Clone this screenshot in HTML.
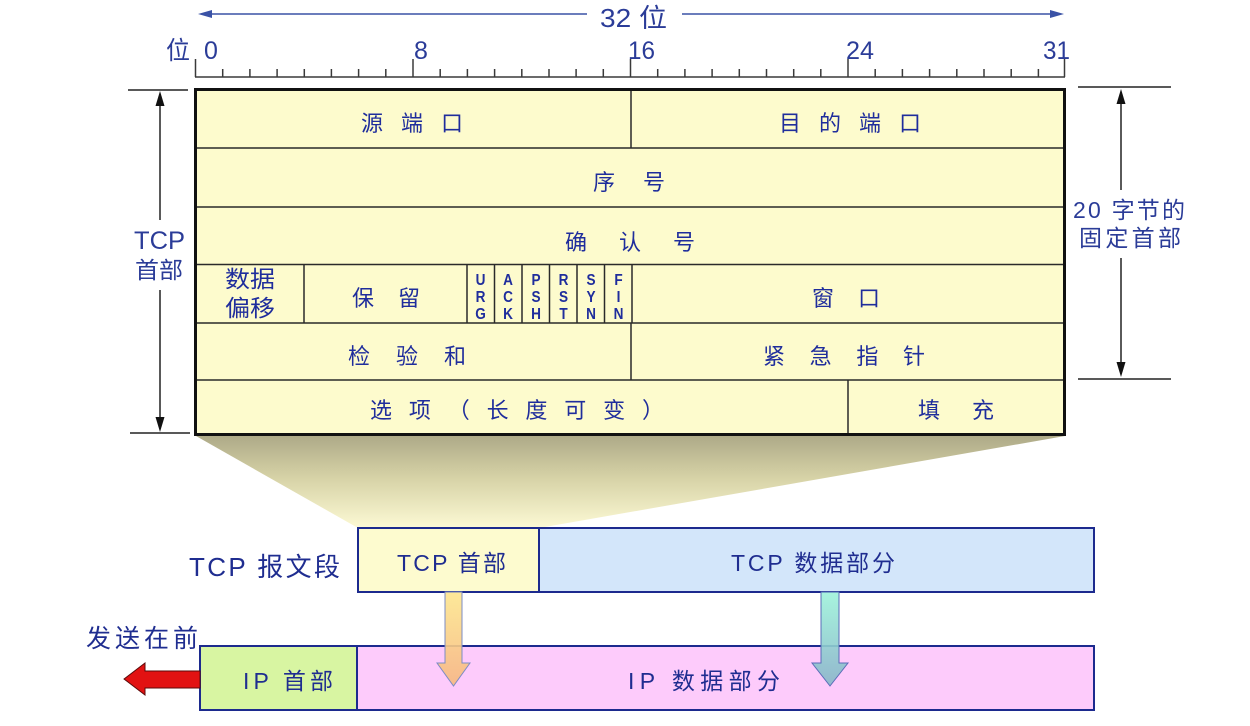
<!DOCTYPE html>
<html>
<head>
<meta charset="utf-8">
<style>
html,body{margin:0;padding:0;background:#fff;}
body{width:1250px;height:726px;overflow:hidden;}
svg{display:block;}
text{font-family:"Liberation Sans","Noto Sans CJK SC",sans-serif;}
.fl{font-weight:700;}
</style>
</head>
<body>
<svg width="1250" height="726" viewBox="0 0 1250 726" xmlns="http://www.w3.org/2000/svg">
<defs>
  <linearGradient id="trap" x1="0" y1="0" x2="0" y2="1">
    <stop offset="0" stop-color="#aeaa88"/>
    <stop offset="0.45" stop-color="#d6d2a6"/>
    <stop offset="1" stop-color="#fcf9d4"/>
  </linearGradient>
  <linearGradient id="ya" x1="0" y1="0" x2="0" y2="1">
    <stop offset="0" stop-color="#fde68e"/>
    <stop offset="1" stop-color="#f6b880"/>
  </linearGradient>
  <linearGradient id="ga" x1="0" y1="0" x2="0" y2="1">
    <stop offset="0" stop-color="#9ef2da"/>
    <stop offset="1" stop-color="#86b6c8"/>
  </linearGradient>
</defs>

<!-- top 32-bit arrow -->
<g stroke="#3a52a6" stroke-width="1.6" fill="#3a52a6">
  <line x1="208" y1="14" x2="587" y2="14"/>
  <polygon points="198,14 212,10 212,18" stroke="none"/>
  <line x1="682" y1="14" x2="1054" y2="14"/>
  <polygon points="1064,14 1050,10 1050,18" stroke="none"/>
</g>
<text x="600" y="27" font-size="26" fill="#2b3c98" textLength="67" lengthAdjust="spacingAndGlyphs">32 位</text>

<!-- ruler -->
<g fill="#2b3c98" font-size="25">
  <text x="166" y="59" textLength="24" lengthAdjust="spacingAndGlyphs">位</text>
  <text x="204" y="59">0</text>
  <text x="414" y="59">8</text>
  <text x="628" y="59" textLength="27" lengthAdjust="spacingAndGlyphs">16</text>
  <text x="846" y="59" textLength="28" lengthAdjust="spacingAndGlyphs">24</text>
  <text x="1043" y="59" textLength="27" lengthAdjust="spacingAndGlyphs">31</text>
</g>
<g stroke="#3a3a3a" stroke-width="1.5">
  <line x1="195" y1="77" x2="1065" y2="77"/>
  <line x1="195.5" y1="59" x2="195.5" y2="77"/>
  <line x1="222.7" y1="69" x2="222.7" y2="77"/>
  <line x1="249.9" y1="69" x2="249.9" y2="77"/>
  <line x1="277.1" y1="69" x2="277.1" y2="77"/>
  <line x1="304.3" y1="69" x2="304.3" y2="77"/>
  <line x1="331.4" y1="69" x2="331.4" y2="77"/>
  <line x1="358.6" y1="69" x2="358.6" y2="77"/>
  <line x1="385.8" y1="69" x2="385.8" y2="77"/>
  <line x1="413" y1="59" x2="413" y2="77"/>
  <line x1="440.2" y1="69" x2="440.2" y2="77"/>
  <line x1="467.4" y1="69" x2="467.4" y2="77"/>
  <line x1="494.6" y1="69" x2="494.6" y2="77"/>
  <line x1="521.8" y1="69" x2="521.8" y2="77"/>
  <line x1="549" y1="69" x2="549" y2="77"/>
  <line x1="576.1" y1="69" x2="576.1" y2="77"/>
  <line x1="603.3" y1="69" x2="603.3" y2="77"/>
  <line x1="630.5" y1="59" x2="630.5" y2="77"/>
  <line x1="657.7" y1="69" x2="657.7" y2="77"/>
  <line x1="684.9" y1="69" x2="684.9" y2="77"/>
  <line x1="712.1" y1="69" x2="712.1" y2="77"/>
  <line x1="739.3" y1="69" x2="739.3" y2="77"/>
  <line x1="766.5" y1="69" x2="766.5" y2="77"/>
  <line x1="793.7" y1="69" x2="793.7" y2="77"/>
  <line x1="820.8" y1="69" x2="820.8" y2="77"/>
  <line x1="848" y1="59" x2="848" y2="77"/>
  <line x1="875.2" y1="69" x2="875.2" y2="77"/>
  <line x1="902.4" y1="69" x2="902.4" y2="77"/>
  <line x1="929.6" y1="69" x2="929.6" y2="77"/>
  <line x1="956.8" y1="69" x2="956.8" y2="77"/>
  <line x1="984" y1="69" x2="984" y2="77"/>
  <line x1="1011.2" y1="69" x2="1011.2" y2="77"/>
  <line x1="1038.4" y1="69" x2="1038.4" y2="77"/>
  <line x1="1064.5" y1="59" x2="1064.5" y2="77"/>
</g>

<!-- trapezoid -->
<polygon points="196,436 1065,436 539,528 358,528" fill="url(#trap)"/>

<!-- table -->
<rect x="195" y="89" width="870" height="346" fill="#fdfbcd"/>
<g stroke="#2a2a2a" stroke-width="1.5">
  <line x1="195" y1="148" x2="1065" y2="148"/>
  <line x1="195" y1="207" x2="1065" y2="207"/>
  <line x1="195" y1="264.5" x2="1065" y2="264.5"/>
  <line x1="195" y1="323" x2="1065" y2="323"/>
  <line x1="195" y1="380" x2="1065" y2="380"/>
  <line x1="631" y1="89" x2="631" y2="148"/>
  <line x1="304" y1="264.5" x2="304" y2="323"/>
  <line x1="467" y1="264.5" x2="467" y2="323"/>
  <line x1="494.5" y1="264.5" x2="494.5" y2="323"/>
  <line x1="522" y1="264.5" x2="522" y2="323"/>
  <line x1="549.5" y1="264.5" x2="549.5" y2="323"/>
  <line x1="577" y1="264.5" x2="577" y2="323"/>
  <line x1="604.5" y1="264.5" x2="604.5" y2="323"/>
  <line x1="632" y1="264.5" x2="632" y2="323"/>
  <line x1="631" y1="323" x2="631" y2="380"/>
  <line x1="848" y1="380" x2="848" y2="435"/>
</g>
<rect x="195.5" y="89.5" width="869" height="345" fill="none" stroke="#111" stroke-width="3"/>

<!-- table text -->
<g fill="#1f2d9c" font-size="22">
  <text x="361" y="131" textLength="102" lengthAdjust="spacing">源端口</text>
  <text x="779" y="131" textLength="142" lengthAdjust="spacing">目的端口</text>
  <text x="593" y="190" textLength="72" lengthAdjust="spacing">序号</text>
  <text x="565" y="250" textLength="130" lengthAdjust="spacing">确认号</text>
  <text x="225" y="287" font-size="23" textLength="50" lengthAdjust="spacingAndGlyphs">数据</text>
  <text x="225" y="316" font-size="23" textLength="50" lengthAdjust="spacingAndGlyphs">偏移</text>
  <text x="352" y="306" textLength="68" lengthAdjust="spacing">保留</text>
  <text x="812" y="306" textLength="68" lengthAdjust="spacing">窗口</text>
  <text x="348" y="364" textLength="118" lengthAdjust="spacing">检验和</text>
  <text x="763" y="364" textLength="162" lengthAdjust="spacing">紧急指针</text>
  <text x="370" y="418" textLength="294" lengthAdjust="spacing">选项（长度可变）</text>
  <text x="918" y="418" textLength="76" lengthAdjust="spacing">填充</text>
</g>
<g fill="#1f2d9c" font-size="16" class="fl" text-anchor="middle">
  <g transform="translate(480.5,0) scale(0.85,1)"><text class="fl" x="0" y="285">U</text><text class="fl" x="0" y="302">R</text><text class="fl" x="0" y="319">G</text></g>
  <g transform="translate(508,0) scale(0.85,1)"><text class="fl" x="0" y="285">A</text><text class="fl" x="0" y="302">C</text><text class="fl" x="0" y="319">K</text></g>
  <g transform="translate(536,0) scale(0.85,1)"><text class="fl" x="0" y="285">P</text><text class="fl" x="0" y="302">S</text><text class="fl" x="0" y="319">H</text></g>
  <g transform="translate(563.5,0) scale(0.85,1)"><text class="fl" x="0" y="285">R</text><text class="fl" x="0" y="302">S</text><text class="fl" x="0" y="319">T</text></g>
  <g transform="translate(591,0) scale(0.85,1)"><text class="fl" x="0" y="285">S</text><text class="fl" x="0" y="302">Y</text><text class="fl" x="0" y="319">N</text></g>
  <g transform="translate(618.5,0) scale(0.85,1)"><text class="fl" x="0" y="285">F</text><text class="fl" x="0" y="302">I</text><text class="fl" x="0" y="319">N</text></g>
</g>

<!-- left dimension -->
<g stroke="#222" stroke-width="1.5">
  <line x1="128" y1="90" x2="188" y2="90"/>
  <line x1="130" y1="433" x2="190" y2="433"/>
  <line x1="160" y1="100" x2="160" y2="220"/>
  <line x1="160" y1="290" x2="160" y2="422"/>
</g>
<polygon points="160,91 155.5,106 164.5,106" fill="#111"/>
<polygon points="160,432 155.5,417 164.5,417" fill="#111"/>
<g fill="#2b3c98" font-size="25">
  <text x="134" y="249" textLength="51" lengthAdjust="spacingAndGlyphs">TCP</text>
  <text x="135" y="278" font-size="23" textLength="48" lengthAdjust="spacingAndGlyphs">首部</text>
</g>

<!-- right dimension -->
<g stroke="#222" stroke-width="1.5">
  <line x1="1078" y1="87" x2="1171" y2="87"/>
  <line x1="1078" y1="379" x2="1171" y2="379"/>
  <line x1="1121" y1="98" x2="1121" y2="190"/>
  <line x1="1121" y1="258" x2="1121" y2="368"/>
</g>
<polygon points="1121,89 1116.5,104 1125.5,104" fill="#111"/>
<polygon points="1121,377 1116.5,362 1125.5,362" fill="#111"/>
<g fill="#2b3c98" font-size="23">
  <text x="1073" y="218" textLength="112" lengthAdjust="spacing">20 字节的</text>
  <text x="1079" y="246" textLength="102" lengthAdjust="spacing">固定首部</text>
</g>

<!-- TCP segment -->
<rect x="358" y="528" width="181" height="64" fill="#fdfbcf" stroke="#1c2a8e" stroke-width="2"/>
<rect x="539" y="528" width="555" height="64" fill="#d3e6fa" stroke="#1c2a8e" stroke-width="2"/>
<g fill="#1f2d90" font-size="23">
  <text x="189" y="576" font-size="26" textLength="151" lengthAdjust="spacing">TCP 报文段</text>
  <text x="397" y="571" textLength="109" lengthAdjust="spacing">TCP 首部</text>
  <text x="731" y="571" textLength="164" lengthAdjust="spacing">TCP 数据部分</text>
</g>

<!-- IP datagram -->
<rect x="200" y="646" width="157" height="64" fill="#d8f5a2" stroke="#1c2a8e" stroke-width="2"/>
<rect x="357" y="646" width="737" height="64" fill="#fdcbfb" stroke="#1c2a8e" stroke-width="2"/>
<g fill="#1f2d90" font-size="23">
  <text x="243" y="689" textLength="90" lengthAdjust="spacing">IP 首部</text>
  <text x="628" y="689" textLength="152" lengthAdjust="spacing">IP 数据部分</text>
  <text x="86" y="647" font-size="25" textLength="112" lengthAdjust="spacing">发送在前</text>
</g>

<!-- down arrows -->
<polygon points="445,592 462,592 462,663 470,663 453.5,686 437,663 445,663" fill="url(#ya)" fill-opacity="0.9" stroke="#7c8cc4" stroke-width="1"/>
<polygon points="821,592 839,592 839,663 848,663 830,686 812,663 821,663" fill="url(#ga)" fill-opacity="0.9" stroke="#5a6cb8" stroke-width="1"/>

<!-- red arrow -->
<polygon points="124,679 145,663 145,671 200,671 200,688 145,688 145,695" fill="#e21212" stroke="#5a0a0a" stroke-width="1"/>
</svg>
</body>
</html>
